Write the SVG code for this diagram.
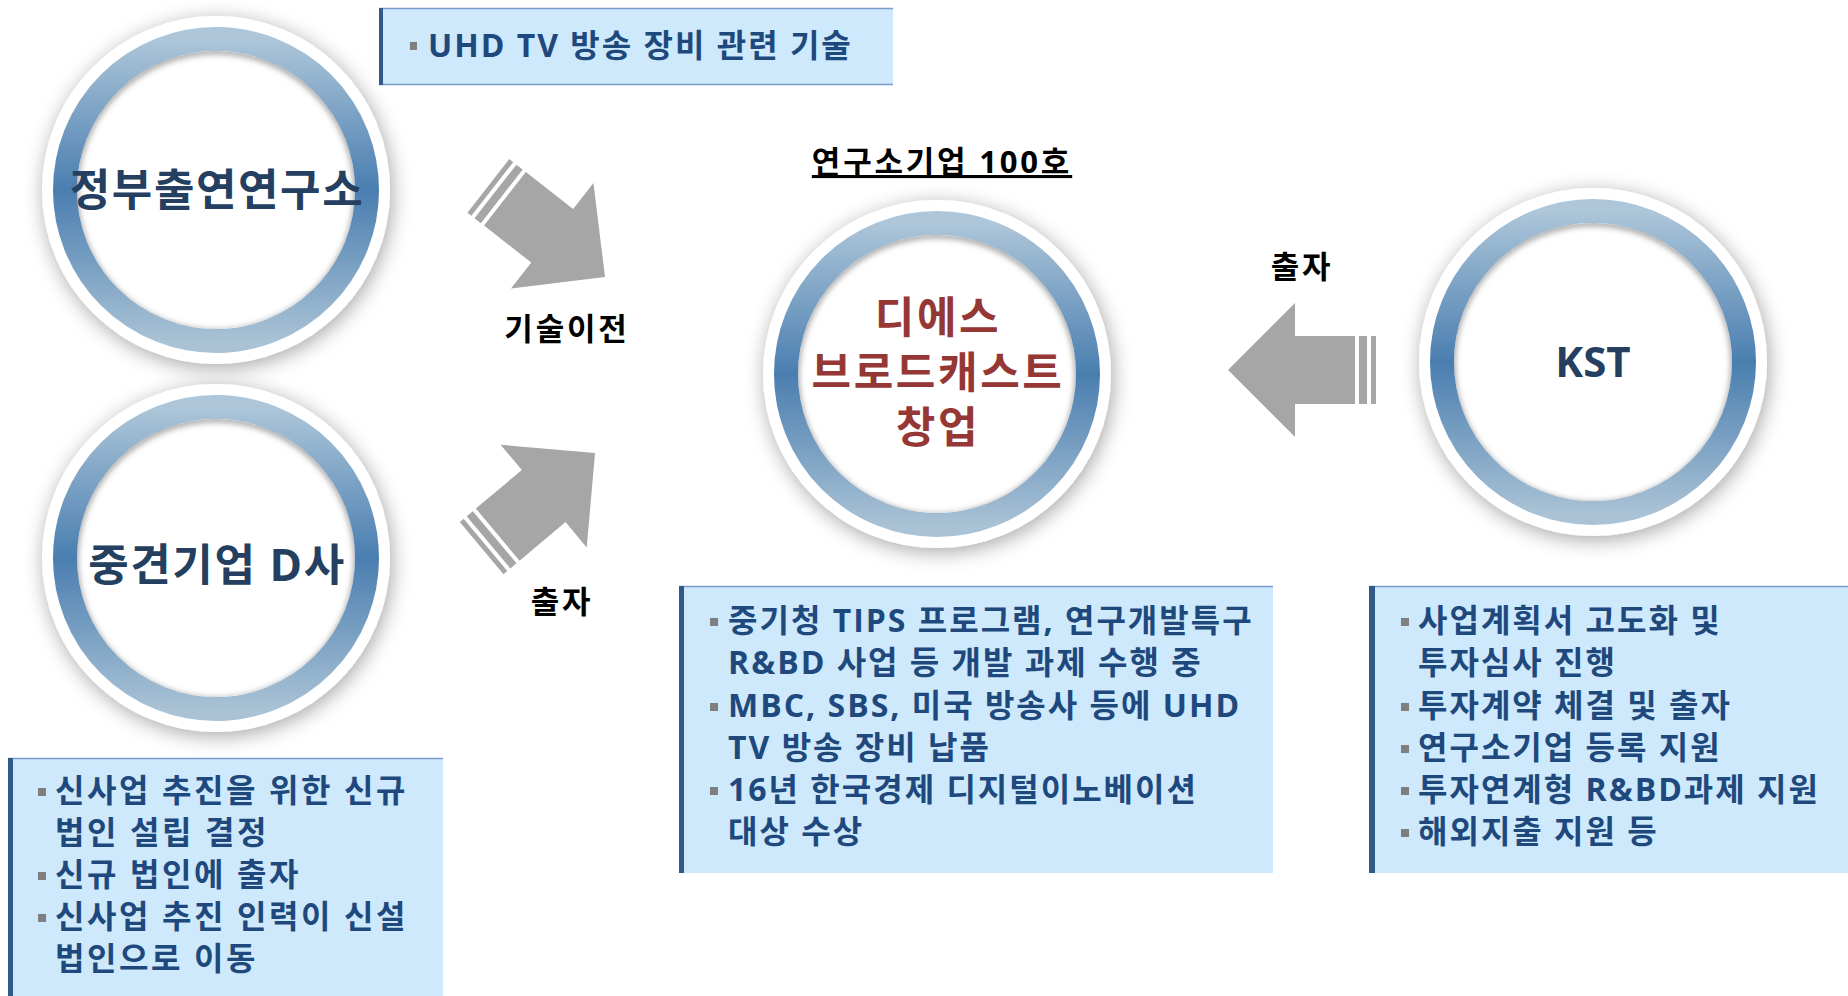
<svg xmlns="http://www.w3.org/2000/svg" xmlns:xlink="http://www.w3.org/1999/xlink" width="1848" height="996" viewBox="0 0 1848 996">
<style>
.t{font-family:"Open Sans","Noto Sans CJK KR",sans-serif;font-weight:bold}
.nt{font-size:44px;fill:#243f60;text-anchor:middle;letter-spacing:1.6px}
.ct{font-size:43px;fill:#953735;text-anchor:middle;letter-spacing:2.6px}
.lb{font-size:31px;fill:#000;text-anchor:middle;letter-spacing:2.8px}
.bx{font-size:32px;fill:#1f497d;letter-spacing:2px}
.bxl{letter-spacing:2.6px}
.box{fill:#cde9fb}
.edge{fill:#2f5a8a}
.topl{stroke:#7b9bcb;stroke-width:1.5}
.bul{fill:#7f7f7f}
.arr{fill:#a6a6a6}
</style>
<defs>
<linearGradient id="ring" x1="0" y1="0" x2="0" y2="1">
<stop offset="0" stop-color="#adc6d9"/>
<stop offset="0.5" stop-color="#4a7eb0"/>
<stop offset="1" stop-color="#a9c2d5"/>
</linearGradient>
<filter id="sh" x="-30%" y="-30%" width="160%" height="160%">
<feGaussianBlur in="SourceAlpha" stdDeviation="10"/>
<feOffset dx="2" dy="4" result="b"/>
<feFlood flood-color="#000" flood-opacity="0.35"/>
<feComposite in2="b" operator="in" result="s"/>
<feMerge><feMergeNode in="s"/><feMergeNode in="SourceGraphic"/></feMerge>
</filter>
<filter id="blur3" x="-20%" y="-20%" width="140%" height="140%">
<feGaussianBlur stdDeviation="3"/>
</filter>
<clipPath id="inner"><circle cx="0" cy="0" r="139"/></clipPath>
<g id="disc">
<circle cx="0" cy="0" r="174" fill="#fff" filter="url(#sh)"/>
<circle cx="0" cy="0" r="151" fill="none" stroke="url(#ring)" stroke-width="24"/>
<g clip-path="url(#inner)">
<circle cx="0" cy="2" r="141" fill="none" stroke="#8a8a8a" stroke-width="5" filter="url(#blur3)"/>
</g>
</g>
<g id="arrow">
<path d="M0,0 L-67,-67 L-67,-34 L-127,-34 L-127,34 L-67,34 L-67,67 Z"/>
<rect x="-139" y="-34" width="8" height="68"/>
<rect x="-148" y="-34" width="5" height="68"/>
</g>
</defs>

<g id="connectors" class="arr">
<use xlink:href="#arrow" href="#arrow" transform="translate(605,277) rotate(38)"/>
<use xlink:href="#arrow" href="#arrow" transform="translate(595,453) rotate(-40)"/>
<use xlink:href="#arrow" href="#arrow" transform="translate(1228,370) rotate(180)"/>
</g>

<g id="node-research-institute">
<use xlink:href="#disc" href="#disc" x="216" y="190"/>
<text class="t nt" x="217" y="206">정부출연연구소</text>
</g>

<g id="node-company-d">
<use xlink:href="#disc" href="#disc" x="216" y="558"/>
<text class="t nt" x="217" y="581">중견기업 D사</text>
</g>

<g id="node-startup">
<use xlink:href="#disc" href="#disc" x="937" y="374"/>
<text class="t ct" x="938" y="333">디에스</text>
<text class="t ct" x="938" y="388">브로드캐스트</text>
<text class="t ct" x="938" y="443">창업</text>
</g>

<g id="node-kst">
<use xlink:href="#disc" href="#disc" x="1593" y="362"/>
<text class="t nt" x="1593" y="377" style="font-size:42px;letter-spacing:0">KST</text>
</g>

<g id="title-label">
<text class="t lb" x="942" y="173" text-decoration="underline">연구소기업 100호</text>
</g>

<g id="labels">
<text class="t lb" x="567" y="340">기술이전</text>
<text class="t lb" x="562" y="613">출자</text>
<text class="t lb" x="1302" y="278">출자</text>
</g>

<g id="box-tech">
<rect class="box" x="379" y="8" width="514" height="77"/>
<line class="topl" x1="379" y1="8.5" x2="893" y2="8.5"/>
<line class="topl" x1="379" y1="84.5" x2="893" y2="84.5"/>
<rect class="edge" x="379" y="8" width="4" height="77"/>
<rect class="bul" x="410" y="42" width="7" height="8"/>
<text class="t bx" x="428" y="57">UHD TV 방송 장비 관련 기술</text>
</g>

<g id="box-company-d">
<rect class="box" x="8" y="758" width="435" height="238"/>
<line class="topl" x1="8" y1="758.5" x2="443" y2="758.5"/>
<rect class="edge" x="8" y="758" width="5" height="238"/>
<rect class="bul" x="38" y="788" width="8" height="8"/>
<rect class="bul" x="38" y="872" width="8" height="8"/>
<rect class="bul" x="38" y="914" width="8" height="8"/>
<text class="t bx bxl" x="55" y="802">신사업 추진을 위한 신규</text>
<text class="t bx bxl" x="55" y="844">법인 설립 결정</text>
<text class="t bx bxl" x="55" y="886">신규 법인에 출자</text>
<text class="t bx bxl" x="55" y="928">신사업 추진 인력이 신설</text>
<text class="t bx bxl" x="55" y="970">법인으로 이동</text>
</g>

<g id="box-startup">
<rect class="box" x="679" y="586" width="594" height="287"/>
<line class="topl" x1="679" y1="586.5" x2="1273" y2="586.5"/>
<rect class="edge" x="679" y="586" width="5" height="287"/>
<rect class="bul" x="710" y="618" width="8" height="8"/>
<rect class="bul" x="710" y="703" width="8" height="8"/>
<rect class="bul" x="710" y="787" width="8" height="8"/>
<text class="t bx" x="728" y="632">중기청 TIPS 프로그램, 연구개발특구</text>
<text class="t bx" x="728" y="674">R&amp;BD 사업 등 개발 과제 수행 중</text>
<text class="t bx" x="728" y="717">MBC, SBS, 미국 방송사 등에 UHD</text>
<text class="t bx" x="728" y="759">TV 방송 장비 납품</text>
<text class="t bx" x="728" y="801">16년 한국경제 디지털이노베이션</text>
<text class="t bx" x="728" y="843">대상 수상</text>
</g>

<g id="box-kst">
<rect class="box" x="1369" y="586" width="479" height="287"/>
<line class="topl" x1="1369" y1="586.5" x2="1848" y2="586.5"/>
<rect class="edge" x="1369" y="586" width="6" height="287"/>
<rect class="bul" x="1401" y="618" width="8" height="8"/>
<rect class="bul" x="1401" y="703" width="8" height="8"/>
<rect class="bul" x="1401" y="745" width="8" height="8"/>
<rect class="bul" x="1401" y="787" width="8" height="8"/>
<rect class="bul" x="1401" y="829" width="8" height="8"/>
<text class="t bx" x="1418" y="632">사업계획서 고도화 및</text>
<text class="t bx" x="1418" y="674">투자심사 진행</text>
<text class="t bx" x="1418" y="717">투자계약 체결 및 출자</text>
<text class="t bx" x="1418" y="759">연구소기업 등록 지원</text>
<text class="t bx" x="1418" y="801">투자연계형 R&amp;BD과제 지원</text>
<text class="t bx" x="1418" y="843">해외지출 지원 등</text>
</g>
</svg>
